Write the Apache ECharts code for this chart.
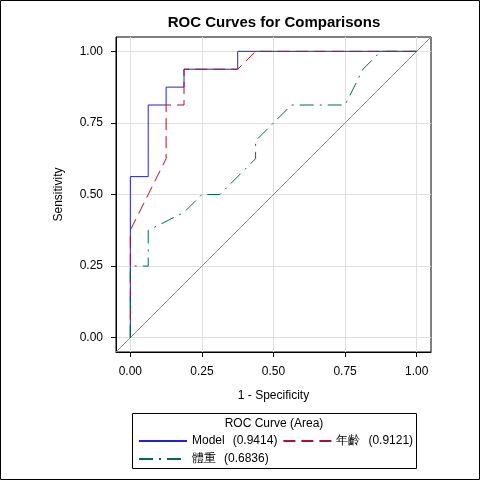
<!DOCTYPE html>
<html>
<head>
<meta charset="utf-8">
<script src="https://cdn.jsdelivr.net/npm/echarts@6.0.0/dist/echarts.min.js"></script>
<style>
	html, body { margin: 0; padding: 0; background: #fff; }
	#rocChart { width: 480px; height: 480px; }
</style>
</head>
<body>
<div id="rocChart"></div>
<script>
// ROC 曲线数据 (1 - Specificity, Sensitivity)
var seriesNames = ['Model', '年齡', '體重'];
var seriesAreas = ['0.9414', '0.9121', '0.6836'];

var modelX = [0, 0, 0.0625, 0.0625, 0.125, 0.125, 0.1875, 0.1875, 0.375, 0.375, 1];
var modelY = [0, 0.5625, 0.5625, 0.8125, 0.8125, 0.875, 0.875, 0.9375, 0.9375, 1, 1];

var ageX = [0, 0, 0.125, 0.125, 0.1875, 0.1875, 0.375, 0.4375, 1];
var ageY = [0, 0.375, 0.625, 0.8125, 0.8125, 0.9375, 0.9375, 1, 1];

var weightX = [0, 0, 0.0625, 0.0625, 0.1875, 0.25, 0.3125, 0.4375, 0.4375, 0.5625, 0.75, 0.8125, 0.875, 1];
var weightY = [0, 0.25, 0.25, 0.375, 0.4375, 0.5, 0.5, 0.625, 0.6875, 0.8125, 0.8125, 0.9375, 1, 1];

// 对角参考线
var refX = [-0.05, 1.05];
var refY = [-0.05, 1.05];

var tickValues = [0, 0.25, 0.5, 0.75, 1];

function pairs(xs, ys) {
	var out = [];
	for (var i = 0; i < xs.length; i++) {
		out.push([xs[i], ys[i]]);
	}
	return out;
}

var font = '"Liberation Sans", Arial, sans-serif';

function axisOpt(name) {
	return {
		type : 'value',
		min : -0.05,
		max : 1.05,
		name : name,
		nameLocation : 'middle',
		nameTextStyle : { color: '#000', fontSize: 12, fontFamily: font },
		axisLine : { show: true, onZero: false, lineStyle: { color: '#000', width: 1 } },
		axisTick : { show: true, inside: false, length: 5, customValues: tickValues, lineStyle: { color: '#000' } },
		axisLabel : {
			customValues: tickValues,
			color: '#000',
			fontSize: 12,
			fontFamily: font,
			formatter: function (v) { return v.toFixed(2); }
		},
		splitLine : { show: true, lineStyle: { color: '#e0e0e0', width: 1 } }
	};
}

var xAxisOpt = axisOpt('1 - Specificity');
xAxisOpt.nameGap = 38;
xAxisOpt.axisLabel.margin = 14;

var yAxisOpt = axisOpt('Sensitivity');
yAxisOpt.nameGap = 51;
yAxisOpt.nameRotate = 90;
yAxisOpt.axisLabel.margin = 13;

function legendFormatter(name) {
	var i = seriesNames.indexOf(name);
	return '{n|' + name + '}{v|(' + seriesAreas[i] + ')}';
}

var legendText = {
	color: '#000',
	fontSize: 12,
	fontFamily: font,
	rich: {
		n: { fontSize: 12, fontFamily: font, color: '#000' },
		v: { fontSize: 12, fontFamily: font, color: '#000', padding: [0, 0, 0, 8] }
	}
};

var rocChart = echarts.init(document.getElementById('rocChart'), null, { renderer: 'canvas' });
var rocOption = {
	backgroundColor : '#fff',
	animation : false,
	title : {
		text: 'ROC Curves for Comparisons',
		left: 274,
		top: 15,
		padding: 0,
		textAlign: 'center',
		textStyle: { color: '#000', fontSize: 15, fontWeight: 'bold', fontFamily: font }
	},
	grid : {
		left: 116,
		right: 49,
		top: 37,
		bottom: 128,
		show: true,
		borderColor: '#000',
		borderWidth: 1,
		backgroundColor: 'transparent'
	},
	xAxis : xAxisOpt,
	yAxis : yAxisOpt,
	legend : [
		{
			data: [seriesNames[0], seriesNames[1]],
			left: 138,
			top: 435,
			padding: 0,
			itemWidth: 48,
			itemHeight: 14,
			itemGap: 5,
			itemStyle: { opacity: 0 },
			formatter: legendFormatter,
			textStyle: legendText,
			selectedMode: false
		},
		{
			data: [seriesNames[2]],
			left: 138,
			top: 453,
			padding: 0,
			itemWidth: 48,
			itemHeight: 14,
			itemStyle: { opacity: 0 },
			formatter: legendFormatter,
			textStyle: legendText,
			selectedMode: false
		}
	],
	graphic : [
		{
			type: 'rect',
			shape: { x: 0.5, y: 0.5, width: 479, height: 479 },
			style: { fill: 'none', stroke: '#000', lineWidth: 1 },
			silent: true
		},
		{
			type: 'rect',
			shape: { x: 132.5, y: 413.5, width: 284, height: 55 },
			style: { fill: 'none', stroke: '#000', lineWidth: 1 },
			silent: true
		},
		{
			type: 'text',
			x: 274,
			y: 424,
			style: {
				text: 'ROC Curve (Area)',
				fill: '#000',
				font: '12px ' + font,
				textAlign: 'center',
				textVerticalAlign: 'middle'
			},
			silent: true
		}
	],
	series : [
		{
			name: 'ref',
			type: 'line',
			data: pairs(refX, refY),
			symbol: 'none',
			lineStyle: { color: '#8c8c8c', width: 1 },
			silent: true
		},
		{
			name: seriesNames[0],
			type: 'line',
			data: pairs(modelX, modelY),
			symbol: 'none',
			color: '#2222d8',
			lineStyle: { color: '#2222d8', width: 1 }
		},
		{
			name: seriesNames[1],
			type: 'line',
			data: pairs(ageX, ageY),
			symbol: 'none',
			color: '#a8142c',
			lineStyle: { color: '#a8142c', width: 1, type: [12, 6] }
		},
		{
			name: seriesNames[2],
			type: 'line',
			data: pairs(weightX, weightY),
			symbol: 'none',
			color: '#00695c',
			lineStyle: { color: '#00695c', width: 1, type: [14, 6, 2, 6] }
		}
	]
};
rocChart.setOption(rocOption);
</script>
</body>
</html>
